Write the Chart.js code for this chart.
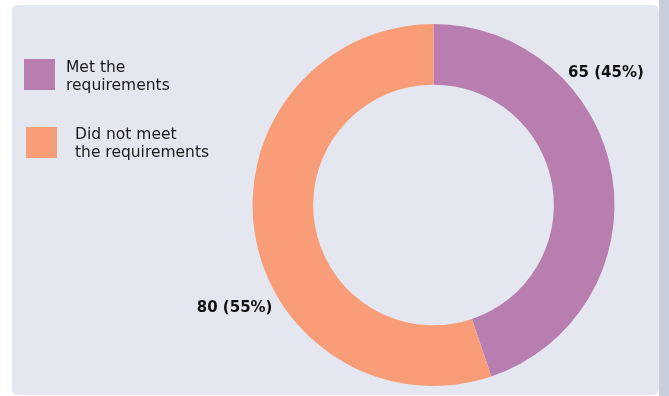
<!DOCTYPE html>
<html>
<head>
<meta charset="utf-8">
<script src="https://cdn.jsdelivr.net/npm/chart.js@4"></script>
<style>
    html, body { margin: 0; padding: 0; background: #ffffff; }
    #wrap { position: relative; width: 669px; height: 396px; overflow: hidden; font-family: "DejaVu Sans", sans-serif; }
    #panel { position: absolute; left: 12px; top: 5px; width: 647px; height: 390px; background: #e4e7ef; border-radius: 6px; }
    #strip { position: absolute; left: 659px; top: 0; width: 10px; height: 396px; background: #c8cedc; }
    #chart { position: absolute; left: 0; top: 0; }
    .legend-item { position: absolute; }
    .legend-box { position: absolute; width: 31px; height: 31px; }
    .legend-text { position: absolute; font-size: 15.5px; line-height: 18px; color: #1b1b1b; white-space: nowrap; }
</style>
</head>
<body>
<div id="wrap">
    <div id="panel"></div>
    <div id="strip"></div>
    <canvas id="chart" width="669" height="396"></canvas>
    <div id="legend"></div>
</div>
<script>
document.addEventListener("DOMContentLoaded", function () {
    const categories = [["Met the", "requirements"], ["Did not meet", "the requirements"]];
    const counts = [65, 80];
    const colors = ["#b97eb0", "#f99d78"];

    // where each value label sits: fraction along its arc, gap outside the ring
    const labelSpots = [{ frac: 0.326, gap: 36 }, { frac: 0.409, gap: 43 }];

    // legend boxes and text, one block per category
    const legendSpots = [
        { box: [24, 59], text: [66, 57.5] },
        { box: [26, 127], text: [75, 124.5] }
    ];

    const valueLabels = {
        id: "valueLabels",
        afterDatasetsDraw(chart) {
            const ctx = chart.ctx;
            const meta = chart.getDatasetMeta(0);
            const data = chart.data.datasets[0].data;
            const total = data.reduce((a, b) => a + b, 0);
            ctx.save();
            ctx.font = "bold 15px 'DejaVu Sans'";
            ctx.fillStyle = "#111111";
            ctx.textAlign = "center";
            ctx.textBaseline = "middle";
            meta.data.forEach((arc, i) => {
                const spot = labelSpots[i];
                const a = arc.startAngle + spot.frac * (arc.endAngle - arc.startAngle);
                const r = arc.outerRadius + spot.gap;
                const x = arc.x + Math.cos(a) * r;
                const y = arc.y + Math.sin(a) * r;
                const pct = Math.round(data[i] / total * 100);
                ctx.fillText(data[i] + " (" + pct + "%)", x, y);
            });
            ctx.restore();
        }
    };

    const ctx = document.getElementById("chart").getContext("2d");
    new Chart(ctx, {
        type: "doughnut",
        data: {
            labels: categories,
            datasets: [{
                data: counts,
                backgroundColor: colors,
                borderWidth: 0
            }]
        },
        options: {
            responsive: false,
            animation: false,
            cutout: "66.5%",
            layout: { padding: { left: 252, top: 24, right: 54, bottom: 10 } },
            plugins: {
                legend: { display: false },
                tooltip: { enabled: false }
            }
        },
        plugins: [valueLabels]
    });

    // html legend
    const legend = document.getElementById("legend");
    categories.forEach((lines, i) => {
        const spot = legendSpots[i];
        const box = document.createElement("div");
        box.className = "legend-box";
        box.style.left = spot.box[0] + "px";
        box.style.top = spot.box[1] + "px";
        box.style.background = colors[i];
        legend.appendChild(box);

        const text = document.createElement("div");
        text.className = "legend-text";
        text.style.left = spot.text[0] + "px";
        text.style.top = spot.text[1] + "px";
        text.innerHTML = lines.join("<br>");
        legend.appendChild(text);
    });
});
</script>
</body>
</html>
